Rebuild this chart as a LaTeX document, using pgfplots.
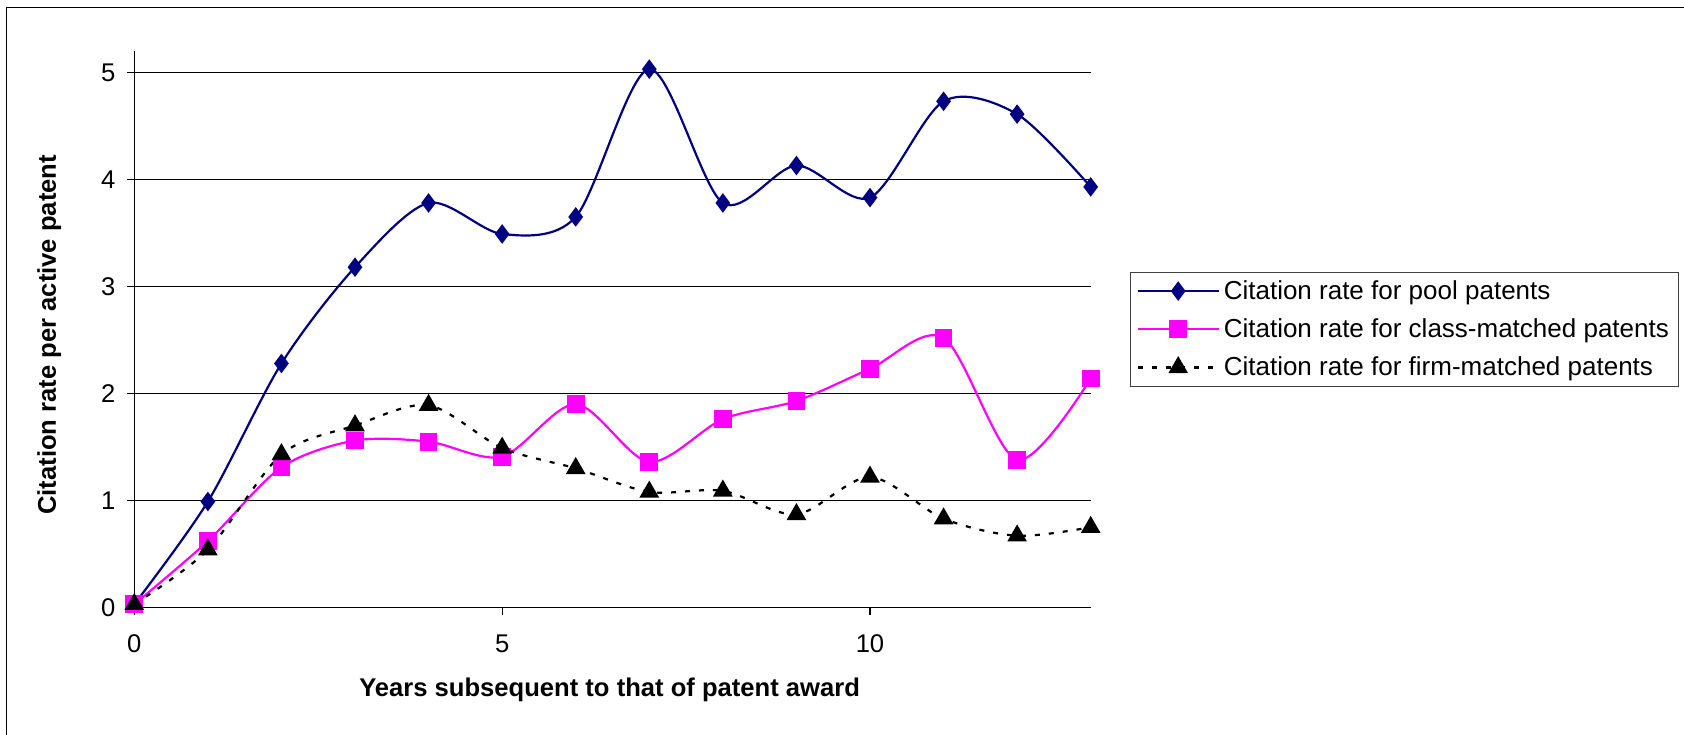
\documentclass[border=0pt]{standalone}
\usepackage{fontspec}
\setmainfont{Liberation Sans}
\usepackage{pgfplots}
\pgfplotsset{compat=1.18}
\definecolor{poolblue}{RGB}{0,0,128}
\definecolor{classmag}{RGB}{255,0,255}
\newcommand{\chfont}{\fontsize{12.8bp}{15bp}\selectfont}
\newcommand{\lgfont}{\fontsize{13bp}{15bp}\selectfont}
\begin{document}
\begin{tikzpicture}
\useasboundingbox (-67.15bp,-63.75bp) rectangle (774.85bp,303.75bp);
\draw[line width=0.7bp,black] (-64bp,-80bp) -- (-64bp,300bp) -- (800bp,300bp);
\begin{axis}[
  at={(0,0)}, anchor=south west,
  scale only axis, width=478.2bp, height=278.25bp,
  xmin=0, xmax=13, ymin=0, ymax=5.2,
  axis x line*=bottom, axis y line*=left,
  axis line style={line width=0.6bp, black},
  xtick={0,5,10}, ytick={0,1,2,3,4,5},
  tick align=outside, major tick length=3.5bp,
  tick style={line width=0.6bp, black},
  ymajorgrids, grid style={line width=0.6bp, black},
  tick label style={font=\chfont},
  /pgf/number format/assume math mode=true,
  xticklabel style={yshift=-6.7bp},
  yticklabel style={xshift=-2.5bp},
  xlabel={\bfseries Years subsequent to that of patent award},
  ylabel={\bfseries Citation rate per active patent},
  label style={font=\chfont},
  xlabel style={at={(axis description cs:0.497,0)}, anchor=center, yshift=-41bp},
  ylabel style={at={(axis description cs:-0.0889,0.49)}, anchor=center},
  legend cell align=left,
  legend style={at={(axis description cs:1.0411,0.6036)}, anchor=north west,
    draw=black!75, line width=0.6bp, font=\lgfont,
    inner xsep=3bp, inner ysep=2bp, row sep=4.2bp,
    /tikz/every even column/.append style={column sep=0bp}},
  legend image code/.code={
    \draw[mark repeat=2,mark phase=2] plot coordinates {(0bp,0bp) (20.25bp,0bp) (40.5bp,0bp)};
  },
  clip=false,
]
\addplot[poolblue, line width=1.1bp, smooth, tension=0.5,
  mark=diamond*, mark size=4bp, mark options={solid, fill=poolblue, draw=poolblue}]
  coordinates {(0,0.03) (1,0.99) (2,2.28) (3,3.18) (4,3.78) (5,3.49) (6,3.65) (7,5.03)
               (8,3.78) (9,4.13) (10,3.83) (11,4.73) (12,4.61) (13,3.93)};
\addlegendentry{Citation rate for pool patents}
\addplot[classmag, line width=1.1bp, smooth, tension=0.5,
  mark=square*, mark size=3.9bp, mark options={solid, fill=classmag, draw=classmag}]
  coordinates {(0,0.03) (1,0.62) (2,1.31) (3,1.56) (4,1.55) (5,1.41) (6,1.90) (7,1.36)
               (8,1.76) (9,1.93) (10,2.23) (11,2.52) (12,1.38) (13,2.14)};
\addlegendentry{Citation rate for class-matched patents}
\addplot[black, line width=1.1bp, smooth, tension=0.5, dash pattern=on 2.5bp off 4.5bp,
  mark=triangle*, mark size=4.6bp, mark options={solid, fill=black, draw=black}]
  coordinates {(0,0.03) (1,0.54) (2,1.43) (3,1.70) (4,1.89) (5,1.49) (6,1.30) (7,1.08)
               (8,1.09) (9,0.87) (10,1.22) (11,0.83) (12,0.67) (13,0.75)};
\addlegendentry{Citation rate for firm-matched patents}
\end{axis}
\end{tikzpicture}
\end{document}
